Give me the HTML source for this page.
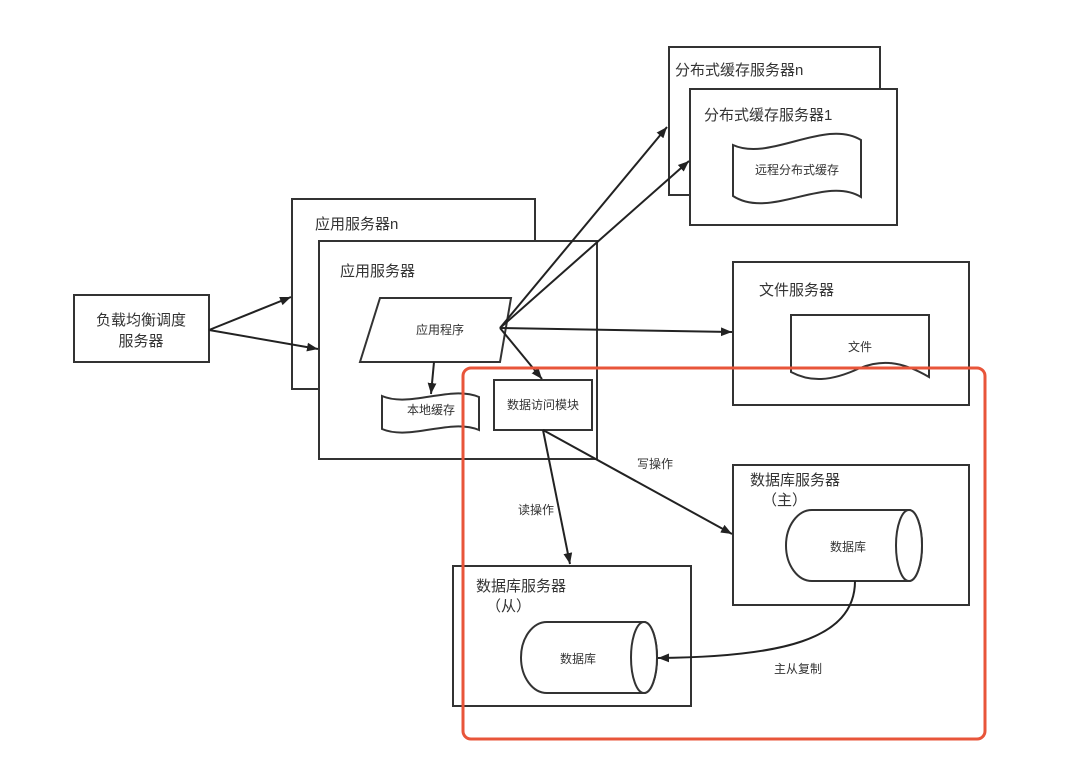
<!DOCTYPE html>
<html><head><meta charset="utf-8"><style>
html,body{margin:0;padding:0;background:#fff;}
svg{display:block;}
text{font-family:"Liberation Sans","Noto Sans CJK SC",sans-serif;fill:#333;}
</style></head><body>
<svg width="1080" height="766" viewBox="0 0 1080 766" xmlns="http://www.w3.org/2000/svg">
<defs>
<marker id="a" viewBox="0 0 10 10" refX="10" refY="5" markerWidth="11" markerHeight="11" orient="auto" markerUnits="userSpaceOnUse"><path d="M0,1 L10,5 L0,9 z" fill="#222"/></marker>
</defs>
<g fill="#fff" stroke="#333" stroke-width="2">
<rect x="74" y="295" width="135" height="67"/>
<rect x="292" y="199" width="243" height="190"/>
<rect x="319" y="241" width="278" height="218"/>
<path d="M380,298 L511,298 L500,362 L360,362 Z"/>
<path d="M382,396 C410,408 450,385 479,397 L479,430 C450,418 410,441 382,429 Z"/>
<rect x="494" y="380" width="98" height="50"/>
<rect x="669" y="47" width="211" height="148"/>
<rect x="690" y="89" width="207" height="136"/>
<path d="M733,145 C770,162 825,118 861,140 L861,197 C825,175 770,220 733,196 Z"/>
<rect x="733" y="262" width="236" height="143"/>
<path d="M791,315 L929,315 L929,377 C900,360 880,360 860,368 C830,382 810,382 791,372 Z"/>
<rect x="733" y="465" width="236" height="140"/>
<path d="M812,510 L909,510 A13,35.5 0 0 1 909,581 L812,581 A26,35.5 0 0 1 812,510 Z"/>
<ellipse cx="909" cy="545.5" rx="13" ry="35.5"/>
<rect x="453" y="566" width="238" height="140"/>
<path d="M547,622 L644,622 A13,35.5 0 0 1 644,693 L547,693 A26,35.5 0 0 1 547,622 Z"/>
<ellipse cx="644" cy="657.5" rx="13" ry="35.5"/>
</g>
<g stroke="#222" stroke-width="2" fill="none" marker-end="url(#a)">
<line x1="209" y1="330" x2="291" y2="297"/>
<line x1="209" y1="330" x2="318" y2="349"/>
<line x1="500" y1="328" x2="667" y2="127"/>
<line x1="500" y1="328" x2="689" y2="161"/>
<line x1="500" y1="328" x2="732" y2="332"/>
<line x1="500" y1="328" x2="542" y2="379"/>
<line x1="434" y1="362" x2="431" y2="394"/>
<line x1="543" y1="430" x2="570" y2="564"/>
<line x1="543" y1="430" x2="732" y2="534"/>
<path d="M855,581 C855,640 780,657 658,658"/>
</g>
<rect x="463" y="368" width="522" height="371" rx="8" fill="none" stroke="#e8553a" stroke-width="3"/>
<g font-size="15">
<text x="141" y="325" text-anchor="middle">负载均衡调度</text>
<text x="141" y="346" text-anchor="middle">服务器</text>
<text x="315" y="229">应用服务器n</text>
<text x="340" y="276">应用服务器</text>
<text x="675" y="75">分布式缓存服务器n</text>
<text x="704" y="120">分布式缓存服务器1</text>
<text x="759" y="295">文件服务器</text>
<text x="750" y="485">数据库服务器</text>
<text x="762" y="505">（主）</text>
<text x="476" y="591">数据库服务器</text>
<text x="486" y="611">（从）</text>
</g>
<g font-size="12" text-anchor="middle">
<text x="440" y="334">应用程序</text>
<text x="431" y="414">本地缓存</text>
<text x="543" y="409">数据访问模块</text>
<text x="797" y="174">远程分布式缓存</text>
<text x="860" y="351">文件</text>
<text x="848" y="551">数据库</text>
<text x="578" y="663">数据库</text>
<text x="536" y="514">读操作</text>
<text x="655" y="468">写操作</text>
<text x="798" y="673">主从复制</text>
</g>
</svg>
</body></html>
